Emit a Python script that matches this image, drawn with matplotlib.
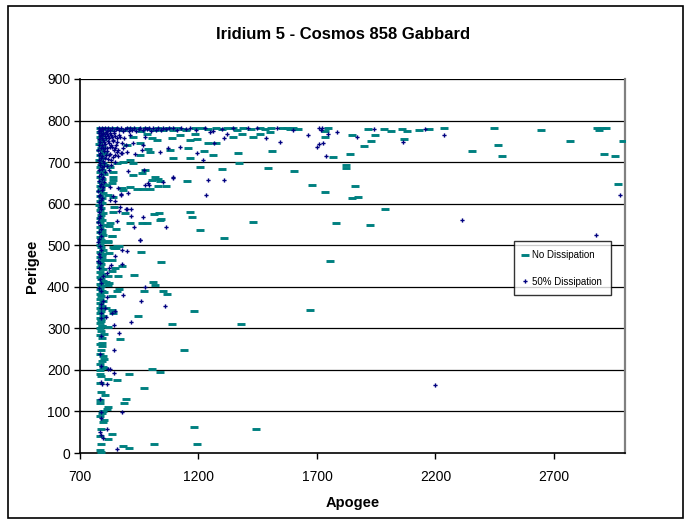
import matplotlib
matplotlib.use('Agg')
import matplotlib.pyplot as plt
from matplotlib.patches import Rectangle

plt.rcParams['font.family'] = ['Liberation Sans', 'DejaVu Sans']

# ---- data: (apogee, perigee) ----
# No Dissipation: top row near the 780 km cap
nd_top = [(786, 781), (799, 779), (815, 782), (831, 778), (846, 781), (868, 780), (882, 777),
          (905, 782), (919, 779), (942, 781), (957, 776), (979, 782), (994, 780), (1017, 778),
          (1031, 781), (1055, 779), (1070, 782), (1094, 777), (1108, 781), (1133, 780), (1149, 778),
          (1185, 783), (1213, 781), (1240, 779), (1276, 783), (1300, 780), (1319, 783), (1347, 781),
          (1361, 777), (1388, 782), (1420, 779), (1459, 781), (1480, 780), (1508, 781), (1551, 783),
          (1573, 781), (1586, 780), (1598, 782), (1620, 780), (1747, 781), (1915, 780), (1983, 780),
          (2058, 780), (2130, 778), (2173, 780), (2236, 781), (2447, 781), (2645, 778), (2881, 781),
          (2902, 781), (2919, 781)]

# No Dissipation: column at apogee ~790
nd_col = [(785, 772), (792, 767), (784, 761), (798, 756), (787, 750), (782, 744), (795, 739),
          (789, 733), (784, 728), (800, 722), (786, 716), (793, 711), (782, 705), (797, 699),
          (788, 694), (784, 688), (794, 682), (786, 676), (801, 671), (783, 665), (791, 659),
          (787, 653), (796, 648), (784, 642), (790, 636), (785, 630), (799, 625), (783, 619),
          (792, 613), (786, 607), (795, 601), (782, 596), (789, 590), (784, 584), (797, 578),
          (787, 572), (783, 566), (793, 561), (786, 555), (800, 549), (784, 543), (791, 537),
          (785, 531), (796, 525), (783, 519), (789, 513), (794, 507), (784, 501), (787, 495),
          (799, 489), (783, 483), (791, 478), (786, 472), (795, 466), (784, 460), (789, 454),
          (783, 448), (797, 442), (786, 436), (792, 430), (784, 424), (788, 418), (796, 413),
          (783, 407), (790, 401), (785, 395), (794, 389), (784, 383), (789, 377), (783, 371),
          (798, 366), (786, 360), (791, 354), (784, 348), (789, 342), (785, 336), (796, 330),
          (783, 324), (790, 318), (786, 312), (793, 306), (784, 300), (788, 293), (785, 284),
          (791, 276), (784, 262), (789, 249), (786, 238), (792, 221), (785, 199), (790, 185),
          (784, 168), (788, 147), (786, 128), (791, 96), (785, 88), (789, 58), (786, 40),
          (790, 21), (785, 8)]

# No Dissipation: scattered points
nd_mid = [(1185, 768), (1192, 755), (1241, 747), (1276, 745), (1382, 768), (1459, 768), (1501, 773),
          (1511, 727), (1164, 753), (1157, 735), (1224, 727), (1094, 711), (1164, 711), (1262, 717),
          (1206, 689), (1298, 683), (1365, 722), (1372, 698), (1492, 687), (1431, 761), (1347, 761),
          (1052, 777), (981, 768), (925, 761), (1002, 757), (1087, 757), (1122, 765), (897, 741),
          (953, 745), (1023, 753), (988, 731), (1080, 729), (953, 717), (911, 705), (883, 701),
          (855, 697), (925, 697), (995, 725), (974, 681), (827, 689), (805, 693), (841, 677),
          (1848, 766), (1945, 766), (1928, 750), (1898, 739), (1839, 720), (1768, 712), (2067, 755),
          (2354, 727), (2463, 742), (2480, 715), (2767, 750), (2911, 719), (2957, 715), (2991, 751),
          (2970, 648), (1603, 678), (1822, 693), (1822, 686), (1679, 645), (1734, 629), (1860, 643),
          (1848, 614), (1873, 617), (1987, 587), (1780, 553), (1923, 549), (1734, 761), (1734, 775),
          (2012, 775), (2080, 775), (2890, 777), (1755, 462), (1671, 343),
          (960, 673), (925, 669), (1016, 663), (1030, 659), (1002, 657), (1037, 655), (1063, 643),
          (1030, 643), (967, 635), (911, 641), (995, 635), (939, 635), (876, 637), (834, 649),
          (883, 633), (820, 621), (841, 617), (841, 581), (845, 593), (890, 577), (1042, 562),
          (827, 553), (824, 547), (852, 538), (791, 530), (834, 522), (820, 509), (841, 495),
          (852, 493), (841, 665), (841, 657), (810, 645), (1431, 557), (1164, 581), (1171, 567),
          (1037, 561), (1012, 574), (1035, 577), (981, 554), (960, 554), (911, 554), (1150, 654),
          (1206, 537), (1307, 518), (818, 508), (835, 523), (856, 499), (865, 499), (843, 493),
          (957, 484), (822, 481), (793, 475), (835, 464), (1042, 460), (805, 464), (877, 450),
          (848, 445), (835, 438), (928, 428), (860, 427), (818, 427), (1008, 411), (1016, 405),
          (810, 412), (822, 409), (818, 404), (865, 395), (856, 390), (801, 387), (1050, 391),
          (1067, 383), (970, 390), (835, 379), (810, 350), (835, 344), (1181, 342), (839, 337),
          (945, 330), (789, 322), (1088, 310), (1379, 310), (793, 306), (818, 303), (801, 286),
          (869, 274), (1139, 248), (793, 265), (793, 257), (797, 233), (801, 227), (784, 214),
          (797, 208), (801, 204), (1004, 203), (1038, 196), (907, 190), (784, 190), (818, 178),
          (856, 176), (970, 157), (805, 140), (894, 130), (784, 120), (886, 120), (818, 111),
          (814, 106), (797, 102), (801, 79), (797, 75), (1181, 63), (1443, 58), (835, 46),
          (818, 34), (1012, 22), (1194, 22), (881, 17), (907, 12), (789, 2)]

# 50% Dissipation: top row
d50_top = [(780, 781), (786, 777), (792, 782), (798, 779), (805, 783), (812, 776), (819, 781),
           (827, 778), (835, 782), (842, 775), (850, 780), (858, 783), (866, 777), (873, 781),
           (881, 774), (889, 779), (897, 782), (905, 776), (913, 781), (921, 778), (930, 783),
           (938, 775), (947, 780), (955, 782), (964, 777), (973, 781), (982, 779), (991, 783),
           (1001, 776), (1010, 781), (1020, 778), (1031, 782), (1041, 777), (1052, 781), (1064, 779),
           (1075, 783), (1094, 781), (1110, 777), (1128, 782), (1146, 779), (1164, 781), (1190, 777),
           (1227, 781), (1260, 776), (1298, 780), (1347, 781), (1407, 782), (1445, 781), (1530, 782),
           (1599, 778), (1709, 781), (1721, 781), (1717, 777), (1940, 780), (2156, 779)]

# 50% Dissipation: dense block and column near apogee ~785
d50_col = [(780, 770), (788, 765), (796, 771), (804, 762), (814, 768), (822, 758), (831, 766),
           (840, 754), (849, 763), (858, 749), (867, 760), (877, 745), (886, 757), (895, 741),
           (780, 755), (786, 748), (792, 740), (799, 752), (807, 744), (815, 735), (824, 746),
           (833, 737), (842, 728), (852, 740), (862, 730), (872, 721), (883, 733), (778, 730),
           (785, 722), (793, 715), (801, 727), (809, 718), (818, 708), (828, 720), (838, 712),
           (848, 700), (860, 715), (876, 721), (848, 717), (897, 725), (932, 719), (960, 729),
           (925, 745), (827, 737), (911, 765), (974, 761), (967, 741), (779, 705), (786, 697),
           (794, 688), (803, 699), (812, 690), (822, 680), (832, 694), (780, 680), (788, 672),
           (797, 664), (806, 676), (779, 655), (787, 647), (796, 639), (778, 630), (786, 622),
           (794, 613), (780, 605), (788, 597), (779, 580), (786, 571), (778, 556), (785, 548),
           (779, 532), (787, 523), (778, 507), (785, 497), (779, 480), (786, 471), (778, 462),
           (784, 457), (814, 433), (797, 427), (789, 410), (789, 390), (797, 366), (789, 359),
           (790, 349), (806, 349), (789, 336), (810, 328), (789, 325), (789, 281), (784, 239),
           (789, 209), (789, 171), (794, 166), (814, 166), (784, 130), (789, 99), (789, 85),
           (784, 51), (789, 44), (797, 36),
           (782, 776), (790, 774), (799, 767), (808, 773), (817, 763), (826, 771), (836, 761),
           (845, 769), (855, 757), (864, 766), (783, 762), (791, 757), (803, 748), (811, 757),
           (820, 750), (829, 742), (838, 750), (847, 733), (856, 724), (781, 742), (789, 734),
           (797, 733), (806, 735), (813, 726), (822, 716), (831, 704), (782, 718), (790, 710),
           (798, 702), (807, 709), (783, 694), (791, 684), (800, 690), (782, 667), (792, 660),
           (801, 652), (783, 643), (791, 634), (782, 618), (790, 610), (783, 592), (789, 586),
           (782, 565), (788, 540), (781, 515), (787, 488), (780, 444), (786, 418), (781, 397)]

# 50% Dissipation: scattered points
d50_mid = [(953, 512), (877, 488), (898, 486), (848, 475), (877, 455), (831, 453), (822, 446),
           (974, 399), (881, 380), (814, 375), (957, 366), (1059, 354), (848, 342), (835, 337),
           (915, 315), (843, 308), (865, 289), (843, 248), (818, 202), (827, 202), (843, 193),
           (877, 99), (814, 58), (856, 10), (1319, 768), (1309, 757), (1267, 745), (1487, 759),
           (1248, 773), (1192, 721), (1220, 705), (1122, 736), (1091, 661), (1037, 725), (1073, 733),
           (1241, 658), (1309, 657), (1231, 621), (988, 650), (974, 645), (872, 622), (827, 641),
           (897, 586), (914, 588), (866, 582), (914, 570), (967, 567), (929, 543), (1063, 543),
           (827, 609), (841, 618), (904, 679), (970, 681), (1091, 663), (1049, 651), (992, 646),
           (873, 623), (901, 626), (862, 637), (848, 606), (869, 593), (894, 586), (855, 558),
           (953, 513), (1662, 766), (1747, 767), (1785, 772), (1869, 760), (2236, 765), (2063, 748),
           (1544, 748), (1725, 746), (1709, 743), (1700, 736), (1738, 715), (2978, 621), (2312, 561),
           (2877, 524), (2198, 164)]

x_ticks = [700, 1200, 1700, 2200, 2700]
y_ticks = [0, 100, 200, 300, 400, 500, 600, 700, 800, 900]

TEAL = '#008080'
NAVY = '#000080'

nd = nd_top + nd_col + nd_mid
d50 = d50_top + d50_col + d50_mid

fig = plt.figure(figsize=(6.86, 5.21), dpi=100)
fig.patches.append(Rectangle((0.012, 0.006), 0.984, 0.982, transform=fig.transFigure,
                             fill=False, edgecolor='black', linewidth=1.2))

ax = fig.add_axes([0.1166, 0.1305, 0.7945, 0.7179])
ax.plot([p[0] for p in nd], [p[1] for p in nd], linestyle='none', marker='_',
        markersize=5.4, markeredgewidth=2.1, color=TEAL, label='No Dissipation', zorder=3)
ax.plot([p[0] for p in d50], [p[1] for p in d50], linestyle='none', marker='P',
        markersize=3.0, markeredgewidth=0, color=NAVY, label='50% Dissipation', zorder=4)

ax.set_xlim(700, 3000)
ax.set_ylim(0, 900)
ax.set_xticks(x_ticks)
ax.set_yticks(y_ticks)
ax.tick_params(direction='out', length=4, width=1, labelsize=10, colors='black', pad=3)
ax.tick_params(axis='x', pad=8)
for y in y_ticks[1:]:
    ax.axhline(y, color='black', linewidth=0.9, zorder=1)
ax.spines['top'].set_visible(False)
ax.spines['right'].set_color('#808080')
ax.spines['right'].set_linewidth(1.6)
ax.spines['left'].set_linewidth(1.2)
ax.spines['bottom'].set_linewidth(1.2)

ax.set_xlabel('Apogee', fontsize=10.5, fontweight='bold', labelpad=9)
ax.set_ylabel('Perigee', fontsize=10.5, fontweight='bold', labelpad=6)
fig.text(0.5, 0.933, 'Iridium 5 - Cosmos 858 Gabbard', ha='center', va='center',
         fontsize=12, fontweight='bold')

leg = ax.legend(loc='upper left', bbox_to_anchor=(0.796, 0.566), fontsize=7,
                fancybox=False, frameon=True, borderpad=0.9, labelspacing=1.7,
                handlelength=0.5, handletextpad=0.5, borderaxespad=0, markerscale=1.0)
leg.get_frame().set_edgecolor('black')
leg.get_frame().set_linewidth(1.0)

fig.savefig('out.png', dpi=100)
